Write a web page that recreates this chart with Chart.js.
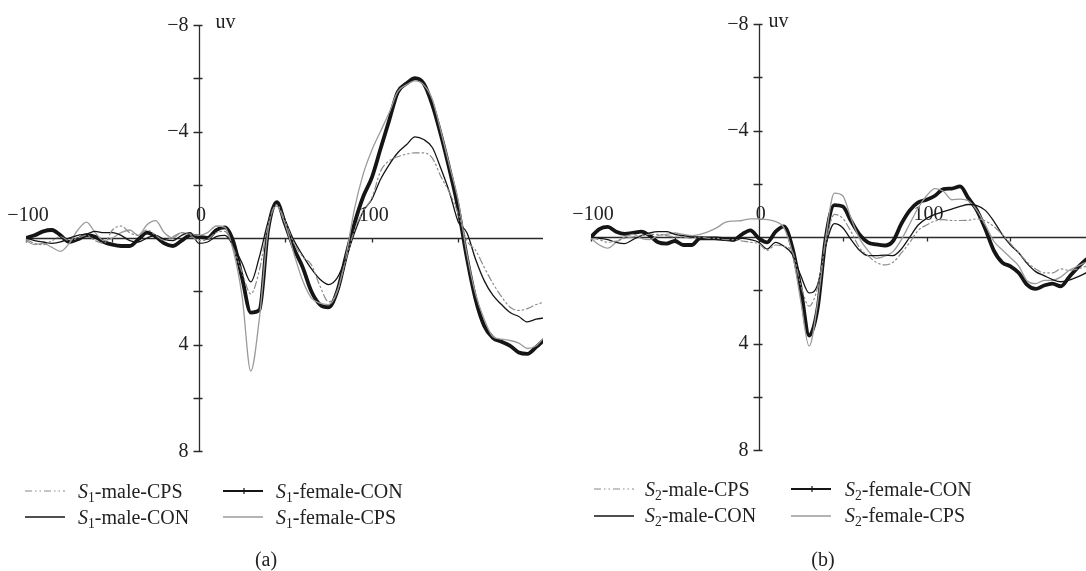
<!DOCTYPE html>
<html>
<head>
<meta charset="utf-8">
<script src="https://cdn.jsdelivr.net/npm/chart.js@4.4.1/dist/chart.umd.min.js"></script>
<style>
  html, body { margin: 0; padding: 0; background: #fff; }
  #wrap { position: relative; width: 1086px; height: 571px; }
  .panel { position: absolute; top: 0; width: 543px; height: 571px; }
</style>
</head>
<body>
<div id="wrap">
  <div class="panel" style="left:0"><canvas id="chartA" width="543" height="571"></canvas></div>
  <div class="panel" style="left:543px"><canvas id="chartB" width="543" height="571"></canvas></div>
</div>
<script>
// ---------- DATA ----------
const times = [-100,-95,-90,-85,-80,-75,-70,-65,-60,-55,-50,-45,-40,-35,-30,-25,-20,-15,-10,-5,
  0,5,10,15,20,25,30,35,40,45,50,55,60,65,70,75,80,85,90,95,
  100,105,110,115,120,125,130,135,140,145,150,155,160,165,170,175,180,185,190,195,200];

const seriesNames = ['male-CPS', 'male-CON', 'female-CON', 'female-CPS'];

// Panel (a): S1
const aMaleCPS = [0.05,0.2,0.25,0.1,-0.05,0.1,0.0,-0.1,0.1,0.2,-0.3,-0.45,-0.2,-0.1,-0.3,-0.1,0.1,-0.05,-0.2,-0.1,
  0.1,0.05,-0.2,-0.25,0.4,1.3,2.1,1.2,-0.5,-1.25,-0.6,0.2,0.7,1.0,1.8,2.4,2.0,0.8,-0.3,-1.0,
  -1.5,-2.5,-2.9,-3.05,-3.15,-3.2,-3.2,-3.0,-2.3,-1.7,-0.9,0.1,0.46,1.1,1.7,2.2,2.6,2.72,2.65,2.5,2.4];
const aMaleCON = [0.0,0.1,0.15,0.2,0.15,0.0,-0.1,-0.15,-0.25,-0.2,-0.2,-0.1,0.1,0.15,0.0,-0.1,0.05,0.1,-0.1,-0.2,
  0.2,0.15,-0.05,-0.1,0.3,0.95,1.65,0.7,-0.6,-1.3,-0.65,0.1,0.65,1.15,1.55,1.75,1.5,0.75,-0.2,-1.0,
  -1.45,-2.2,-2.75,-3.2,-3.5,-3.8,-3.7,-3.4,-2.6,-1.7,-0.6,-0.2,0.8,1.6,2.15,2.5,2.8,2.95,3.15,3.05,3.0];
const aFemaleCON = [0.0,-0.1,-0.25,-0.3,-0.1,0.15,0.05,-0.1,-0.05,0.15,0.25,0.3,0.3,0.05,-0.2,-0.05,0.2,0.3,0.1,-0.1,
  -0.05,0.0,-0.3,-0.4,0.15,1.5,2.8,2.7,-0.3,-1.35,-0.5,0.4,1.1,2.0,2.5,2.6,2.0,0.7,-0.55,-1.55,
  -2.27,-3.34,-4.41,-5.48,-5.8,-6.0,-5.8,-5.0,-3.86,-2.55,-1.1,0.75,2.3,3.3,3.75,3.9,4.05,4.3,4.35,4.1,3.8];
const aFemaleCPS = [0.1,0.25,0.2,0.35,0.5,0.2,-0.3,-0.6,-0.2,0.1,0.0,-0.2,-0.3,-0.1,-0.5,-0.65,-0.2,0.0,-0.2,-0.15,
  -0.1,-0.2,-0.45,-0.4,0.5,2.2,5.0,3.0,-0.3,-1.2,-0.5,0.6,1.6,2.25,2.45,2.5,2.0,0.7,-1.1,-2.4,
  -3.3,-4.0,-4.7,-5.5,-5.75,-5.9,-5.75,-5.2,-4.0,-2.7,-1.4,0.6,2.1,3.05,3.7,3.8,3.85,3.95,4.15,4.05,3.7];

// Panel (b): S2
const bMaleCPS = [0.05,0.1,0.2,0.15,0.05,0.0,-0.05,-0.1,-0.1,-0.05,0.0,0.0,0.05,0.0,0.05,0.05,0.1,0.1,0.15,0.2,
  0.25,0.5,0.3,0.35,0.55,1.8,2.6,1.9,0.2,-0.85,-0.7,-0.2,0.4,0.7,0.95,1.05,0.95,0.6,0.2,-0.25,
  -0.45,-0.6,-0.65,-0.62,-0.62,-0.63,-0.68,-0.6,-0.4,-0.1,0.25,0.6,0.95,1.2,1.35,1.35,1.2,1.25,1.2,1.1,1.0];
const bMaleCON = [0.0,0.05,0.1,0.2,0.25,0.1,-0.05,-0.15,-0.2,-0.2,-0.1,-0.05,0.0,0.0,0.05,0.1,0.1,0.15,0.05,0.1,
  0.2,0.45,0.2,0.35,0.65,1.45,2.1,1.8,0.3,-0.5,-0.35,0.1,0.5,0.7,0.7,0.68,0.7,0.45,0.0,-0.45,
  -0.7,-0.85,-0.95,-1.05,-1.15,-1.22,-1.18,-1.0,-0.6,-0.1,0.3,0.6,1.0,1.3,1.45,1.6,1.68,1.62,1.5,1.35,1.2];
const bFemaleCON = [0.0,-0.3,-0.38,-0.2,-0.12,-0.15,-0.2,-0.05,0.2,0.25,0.15,0.3,0.3,0.05,0.05,0.05,0.08,0.1,-0.1,-0.25,
  0.05,0.2,-0.2,-0.4,0.4,1.95,3.7,2.7,0.0,-1.2,-1.15,-0.6,-0.1,0.2,0.28,0.32,0.15,-0.5,-1.0,-1.3,
  -1.4,-1.55,-1.8,-1.82,-1.9,-1.45,-1.0,-0.3,0.5,0.95,1.1,1.35,1.8,1.95,1.82,1.75,1.85,1.5,1.15,0.85,0.6];
const bFemaleCPS = [0.05,0.3,0.42,0.2,0.0,-0.1,0.05,0.1,-0.05,-0.1,-0.15,-0.1,-0.05,-0.1,-0.2,-0.35,-0.55,-0.6,-0.62,-0.68,
  -0.68,-0.65,-0.58,-0.35,0.6,2.4,4.1,2.5,0.0,-1.65,-1.55,-0.7,0.05,0.5,0.8,0.72,0.55,0.1,-0.5,-1.1,
  -1.55,-1.82,-1.72,-1.4,-1.42,-1.35,-1.0,-0.45,0.15,0.48,0.78,1.1,1.65,1.75,1.63,1.63,1.5,1.25,1.1,0.95,0.85];

// Ticks
const xTickLabels = [-100, 0, 100];
const xMinorTicks = [-100, -50, 50, 100, 150];
const yTickLabels = [-8, -4, 4, 8];
const yMinorTicks = [-8, -6, -4, -2, 2, 4, 6, 8];
const yUnit = 'uv';

// ---------- STYLES ----------
const FONT = '"Liberation Serif", "DejaVu Serif", serif';
const GRAY = '#9b9b9b';
const DARK = '#151515';
const seriesStyles = [
  { color: '#8a8a8a', width: 1.2, dash: [7, 3, 1.5, 3, 1.5, 3], order: 1 },
  { color: DARK, width: 1.3, dash: [], order: 2 },
  { color: DARK, width: 3.8, dash: [], order: 4, marker: true },
  { color: GRAY, width: 1.3, dash: [], order: 3 }
];

function minusFmt(v) { return v < 0 ? '\u2212' + Math.abs(v) : String(v); }

function drawSeriesLabel(ctx, x, yb, sub, rest, size) {
  ctx.textAlign = 'left';
  ctx.textBaseline = 'alphabetic';
  ctx.font = 'italic ' + size + 'px ' + FONT;
  ctx.fillText('S', x, yb);
  let w = ctx.measureText('S').width;
  ctx.font = (size * 0.68).toFixed(1) + 'px ' + FONT;
  ctx.fillText(sub, x + w, yb + 4);
  w += ctx.measureText(sub).width;
  ctx.font = size + 'px ' + FONT;
  ctx.fillText('-' + rest, x + w, yb);
}

const erpDecor = {
  id: 'erpDecor',
  beforeDatasetsDraw(chart, args, o) {
    const { ctx } = chart;
    const xs = chart.scales.x, ys = chart.scales.y;
    const x0 = Math.round(xs.getPixelForValue(0)) + 0.5;
    const y0 = Math.round(ys.getPixelForValue(0)) + 0.5;
    const yTop = ys.getPixelForValue(-8), yBot = ys.getPixelForValue(8);
    ctx.save();
    ctx.strokeStyle = '#2a2a2a';
    ctx.lineWidth = 1.3;
    ctx.beginPath();
    ctx.moveTo(xs.left, y0); ctx.lineTo(xs.right, y0);
    ctx.moveTo(x0, yTop); ctx.lineTo(x0, yBot);
    yMinorTicks.forEach(v => {
      const py = Math.round(ys.getPixelForValue(v)) + 0.5;
      ctx.moveTo(x0 - 6, py); ctx.lineTo(x0 + 3, py);
    });
    xMinorTicks.forEach(v => {
      const px = Math.round(xs.getPixelForValue(v)) + 0.5;
      ctx.moveTo(px, y0); ctx.lineTo(px, y0 + 4);
    });
    ctx.stroke();
    ctx.fillStyle = '#222';
    ctx.font = '20px ' + FONT;
    ctx.textAlign = 'right';
    ctx.textBaseline = 'middle';
    yTickLabels.forEach(v => {
      ctx.fillText(minusFmt(v), x0 - 11, ys.getPixelForValue(v) + 0.5);
    });
    ctx.textAlign = 'center';
    xTickLabels.forEach(v => {
      ctx.fillText(minusFmt(v), xs.getPixelForValue(v) + 2, y0 - 23);
    });
    ctx.textAlign = 'left';
    ctx.textBaseline = 'alphabetic';
    ctx.fillText(yUnit, x0 + o.uvDx, yTop + 3);
    ctx.restore();
  },
  afterDraw(chart, args, o) {
    const { ctx } = chart;
    ctx.save();
    ctx.fillStyle = '#222';
    const slots = [[0, 0], [0, 1], [1, 0], [1, 1]]; // [column,row] per series
    chart.data.datasets.forEach((ds, i) => {
      const [c, r] = slots[i];
      const st = seriesStyles[i];
      const lx = o.legendX[c], ly = o.lineY[r];
      ctx.beginPath();
      ctx.strokeStyle = st.color;
      ctx.lineWidth = st.marker ? 2 : Math.min(st.width, 1.4);
      ctx.setLineDash(st.dash);
      ctx.moveTo(lx, ly); ctx.lineTo(lx + 40, ly);
      ctx.stroke();
      ctx.setLineDash([]);
      if (st.marker) {
        ctx.beginPath();
        ctx.lineWidth = 1.2;
        ctx.moveTo(lx + 21, ly - 3); ctx.lineTo(lx + 21, ly + 3);
        ctx.stroke();
      }
      drawSeriesLabel(ctx, o.legendTextX[c], o.baseY[r], o.sub, seriesNames[i], 20);
    });
    ctx.font = '20px ' + FONT;
    ctx.textAlign = 'center';
    ctx.textBaseline = 'alphabetic';
    ctx.fillText(o.caption, o.captionX, 566);
    ctx.restore();
  }
};

function makeChart(id, sub, arrays, cfg) {
  const datasets = arrays.map((arr, i) => ({
    label: 'S' + sub + '-' + seriesNames[i],
    data: times.map((t, k) => ({ x: t, y: arr[k] })),
    borderColor: seriesStyles[i].color,
    borderWidth: seriesStyles[i].width,
    borderDash: seriesStyles[i].dash,
    order: seriesStyles[i].order,
    pointRadius: 0,
    fill: false,
    cubicInterpolationMode: 'monotone',
    borderCapStyle: 'round',
    borderJoinStyle: 'round'
  }));
  return new Chart(document.getElementById(id), {
    type: 'line',
    data: { datasets },
    options: {
      responsive: false,
      animation: false,
      devicePixelRatio: 1,
      layout: { padding: cfg.padding },
      scales: {
        x: { type: 'linear', min: -100, max: cfg.xMax, display: false },
        y: { type: 'linear', min: -8, max: 8, reverse: true, display: false }
      },
      plugins: {
        legend: { display: false },
        tooltip: { enabled: false },
        erpDecor: Object.assign({ sub }, cfg)
      }
    },
    plugins: [erpDecor]
  });
}

makeChart('chartA', '1', [aMaleCPS, aMaleCON, aFemaleCON, aFemaleCPS], {
  caption: '(a)', xMax: 199,
  padding: { left: 26, right: 0, top: 25, bottom: 120 },
  uvDx: 16, legendX: [25, 223], legendTextX: [78, 276],
  lineY: [491, 517], baseY: [498, 524], captionX: 266
});
makeChart('chartB', '2', [bMaleCPS, bMaleCON, bFemaleCON, bFemaleCPS], {
  caption: '(b)', xMax: 195,
  padding: { left: 48, right: 0, top: 24, bottom: 121 },
  uvDx: 9, legendX: [51, 248], legendTextX: [102, 302],
  lineY: [489, 516], baseY: [496, 522], captionX: 280
});
</script>
</body>
</html>
